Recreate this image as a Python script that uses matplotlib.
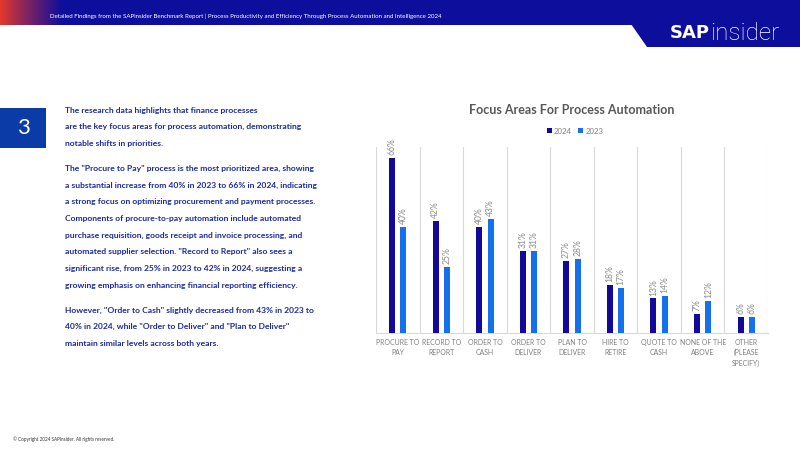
import matplotlib
matplotlib.use("Agg")
import matplotlib.pyplot as plt
import numpy as np
from matplotlib.patches import Polygon, Rectangle

# ---------------- data ----------------
categories = ["PROCURE TO\nPAY", "RECORD TO\nREPORT", "ORDER TO\nCASH", "ORDER TO\nDELIVER",
              "PLAN TO\nDELIVER", "HIRE TO\nRETIRE", "QUOTE TO\nCASH", "NONE OF THE\nABOVE",
              "OTHER\n(PLEASE\nSPECIFY)"]
values_2024 = [66, 42, 40, 31, 27, 18, 13, 7, 6]
values_2023 = [40, 25, 43, 31, 28, 17, 14, 12, 6]
series_names = ["2024", "2023"]

paragraph_lines = [
    "The research data highlights that finance processes",
    "are the key focus areas for process automation, demonstrating",
    "notable shifts in priorities.",
    None,
    "The \"Procure to Pay\" process is the most prioritized area, showing",
    "a substantial increase from 40% in 2023 to 66% in 2024, indicating",
    "a strong focus on optimizing procurement and payment processes.",
    "Components of procure-to-pay automation include automated",
    "purchase requisition, goods receipt and invoice processing, and",
    "automated supplier selection. \"Record to Report\" also sees a",
    "significant rise, from 25% in 2023 to 42% in 2024, suggesting a",
    "growing emphasis on enhancing financial reporting efficiency.",
    None,
    "However, \"Order to Cash\" slightly decreased from 43% in 2023 to",
    "40% in 2024, while \"Order to Deliver\" and \"Plan to Deliver\"",
    "maintain similar levels across both years.",
]
header_text = ("Detailed Findings from the SAPinsider Benchmark Report | Process Productivity and "
               "Efficiency Through Process Automation and Intelligence 2024")
chart_title = "Focus Areas For Process Automation"
copyright_text = "\u00a9 Copyright 2024 SAPinsider. All rights reserved."

# ---------------- style ----------------
NAVY = "#0E0E9C"
C2024 = "#12089A"
C2023 = "#1570EE"
TEXT_BLUE = "#1B2B9C"
FONT = "Lato"

plt.rcParams["font.family"] = [FONT, "DejaVu Sans"]

W, H = 800, 450
fig = plt.figure(figsize=(8, 4.5), dpi=100)
fig.patch.set_facecolor("white")

bg = fig.add_axes([0, 0, 1, 1])
bg.set_zorder(0)

bg.add_patch(Rectangle((0, 0), W, 25, color=NAVY, lw=0))
bg.add_patch(Polygon([(631, 24), (W, 24), (W, 47), (647, 47)], closed=True, color=NAVY, lw=0))
n = 200
red = np.array([0.91, 0.22, 0.17])
nav = np.array([0x0E, 0x0E, 0x9C]) / 255.0
t = np.linspace(0, 1, n) ** 0.9
grad = (red[None, :] * (1 - t[:, None]) + nav[None, :] * t[:, None])[None, :, :]
bg.imshow(grad, extent=(0, 62, 25, 0), aspect="auto", interpolation="bilinear", zorder=1)
bg.set_xlim(0, W)
bg.set_ylim(H, 0)
bg.axis("off")

bg.text(50, 16, header_text, color="white", fontsize=4.45, va="center", ha="left", zorder=3)

renderer = fig.canvas.get_renderer()
t_sap = bg.text(670, 33, "SAP", color="white", fontsize=13, fontweight="bold",
                family=["DejaVu Sans"], va="center", ha="left", zorder=3)
bb = t_sap.get_window_extent(renderer=renderer)
bg.text(670 + bb.width + 0.5, 33.5, "insider", color="white", fontsize=17.5, fontweight="light",
        family=["Roboto", "DejaVu Sans"], va="center", ha="left", zorder=3)

bg.add_patch(Rectangle((0, 108), 46, 40, color="#0B3BA6", lw=0))
bg.text(23, 128.5, "3", color="white", fontsize=16, ha="center", va="center")

y = 110.0
for line in paragraph_lines:
    if line is None:
        y += 8.3
        continue
    bg.text(65, y, line, color=TEXT_BLUE, fontsize=6.1, fontweight="bold",
            va="center", ha="left")
    y += 16.67

bg.text(13, 439, copyright_text, color="#333333", fontsize=3.3, va="center", ha="left")

# ---------------- chart ----------------
left, right, top, bottom = 376, 768, 147, 333
ax = fig.add_axes([left / W, 1 - bottom / H, (right - left) / W, (bottom - top) / H])
ax.set_zorder(2)
ax.patch.set_alpha(0)

x = np.arange(len(categories))
bw = 0.14
off = 0.13
b1 = ax.bar(x - off, values_2024, width=bw, color=C2024, label=series_names[0], zorder=3)
b2 = ax.bar(x + off, values_2023, width=bw, color=C2023, label=series_names[1], zorder=3)

for xs, vals in ((x - off, values_2024), (x + off, values_2023)):
    for xi, v in zip(xs, vals):
        ax.text(xi, v + 1.1, f"{v}%", rotation=90, ha="center", va="bottom",
                fontsize=6.2, color="#8C8C8C")

ax.set_xlim(-0.5, len(categories) - 0.5)
ax.set_ylim(0, 70)
ax.set_yticks([])
ax.set_xticks(x)
ax.set_xticklabels(categories, fontsize=4.95, color="#7F7F7F", linespacing=1.6)
ax.tick_params(axis="x", length=0, pad=4)
ax.set_xticks(np.arange(-0.5, len(categories), 1), minor=True)
ax.tick_params(axis="x", which="minor", length=0)
ax.grid(True, axis="x", which="minor", color="#D9D9D9", lw=0.8)
ax.grid(False, axis="x", which="major")
for s in ("top", "left", "right"):
    ax.spines[s].set_visible(False)
ax.spines["bottom"].set_color("#D9D9D9")
ax.spines["bottom"].set_linewidth(0.8)

fig.text(572 / W, 1 - 110 / H, chart_title, fontsize=9, fontweight="bold",
         color="#595959", ha="center", va="center")
fig.legend(handles=[b1, b2], labels=series_names, loc="center",
           bbox_to_anchor=(575 / W, 1 - 131 / H), ncol=2, frameon=False,
           fontsize=5.6, handlelength=0.6, handleheight=0.6, columnspacing=0.8,
           handletextpad=0.3, labelcolor="#7F7F7F")

fig.savefig("out.png", dpi=100)
